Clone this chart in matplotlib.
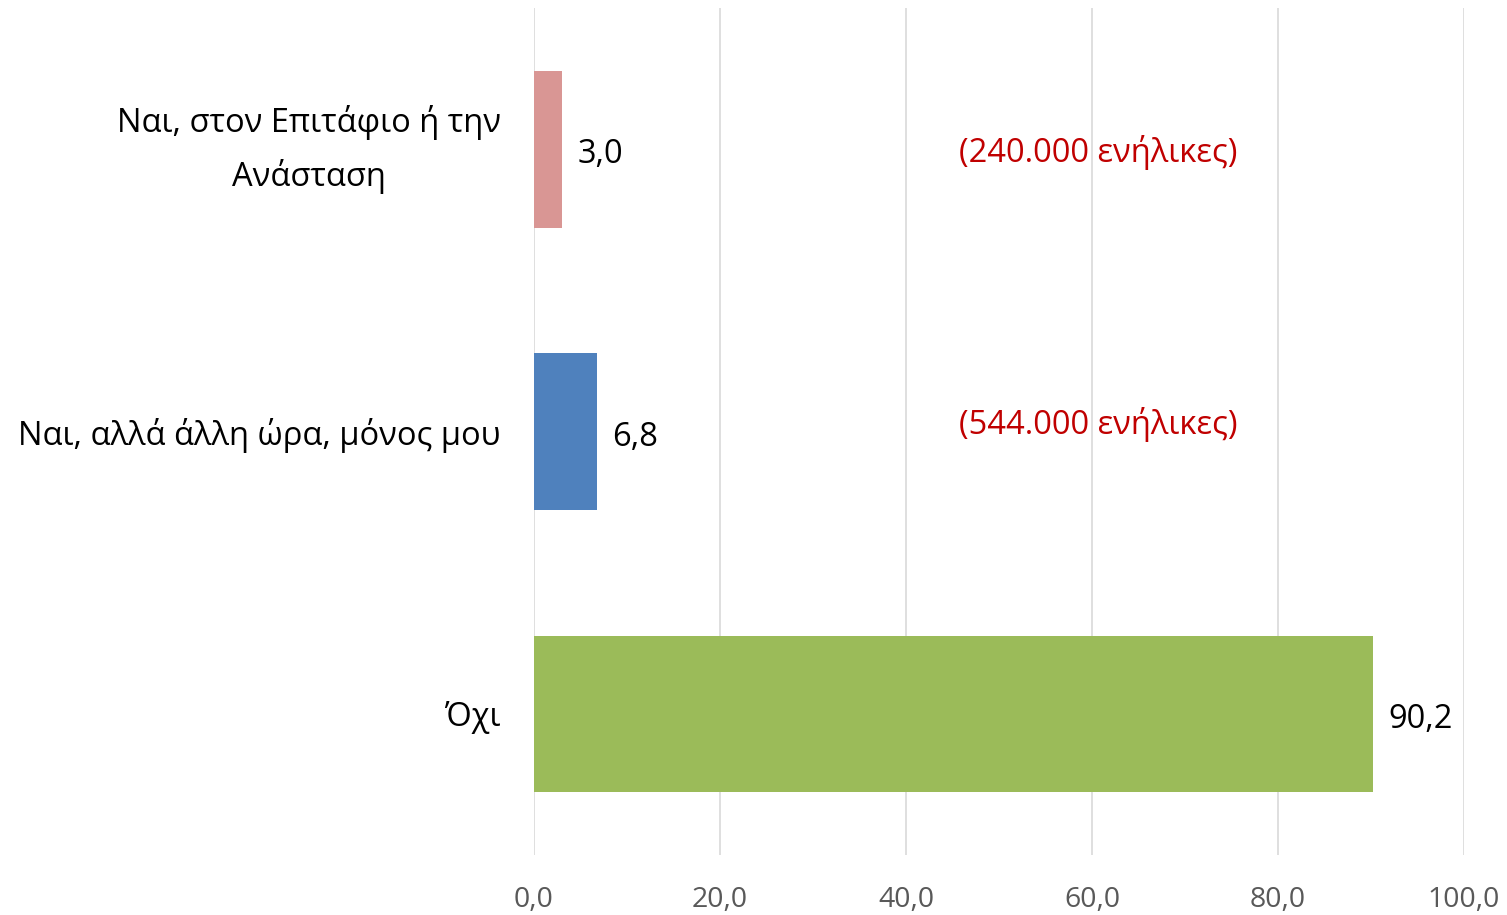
import matplotlib.pyplot as plt

categories = ['Ναι, στον Επιτάφιο ή την\nΑνάσταση', 'Ναι, αλλά άλλη ώρα, μόνος μου', 'Όχι']
values = [3.0, 6.8, 90.2]
colors = ['#D99694', '#4F81BD', '#9BBB59']
notes = ['(240.000 ενήλικες)', '(544.000 ενήλικες)']
xticks = [0, 20, 40, 60, 80, 100]

plt.rcParams['font.family'] = ['Open Sans', 'DejaVu Sans']

fig = plt.figure(figsize=(15.07, 9.15), dpi=100)
ax = fig.add_axes([0.3543, 0.0656, 0.6172, 0.9254])

pos = list(range(len(categories)))
ax.barh(pos, values, height=0.555, color=colors, zorder=3)
ax.set_ylim(2.5, -0.5)
ax.set_xlim(0, 100)

for p, v in zip(pos, values):
    ax.annotate(f'{v:.1f}'.replace('.', ','), (v, p), xytext=(11, -4), textcoords='offset points',
                ha='left', va='center', fontsize=23.5, color='black')

# notes sit a little off the bar centres in the original
note_shift = [0.012, -0.025]
for p, t in enumerate(notes):
    ax.text(60.7, p + note_shift[p], t, ha='center', va='center', fontsize=23.5, color='#C00000', zorder=4)

ax.set_yticks(pos)
ax.set_yticklabels(categories, fontsize=23.5, multialignment='center', linespacing=1.7)
ax.get_yticklabels()[0].set_va('center')
ax.set_xticks(xticks)
ax.set_xticklabels([f'{x:.1f}'.replace('.', ',') for x in xticks], fontsize=20.5, color='#595959')
ax.tick_params(axis='y', length=0, pad=24)
ax.tick_params(axis='x', length=0, pad=22)
ax.grid(axis='x', color='#D9D9D9', linewidth=1.2, zorder=0)
for s in ax.spines.values():
    s.set_visible(False)

plt.savefig('out.png')
